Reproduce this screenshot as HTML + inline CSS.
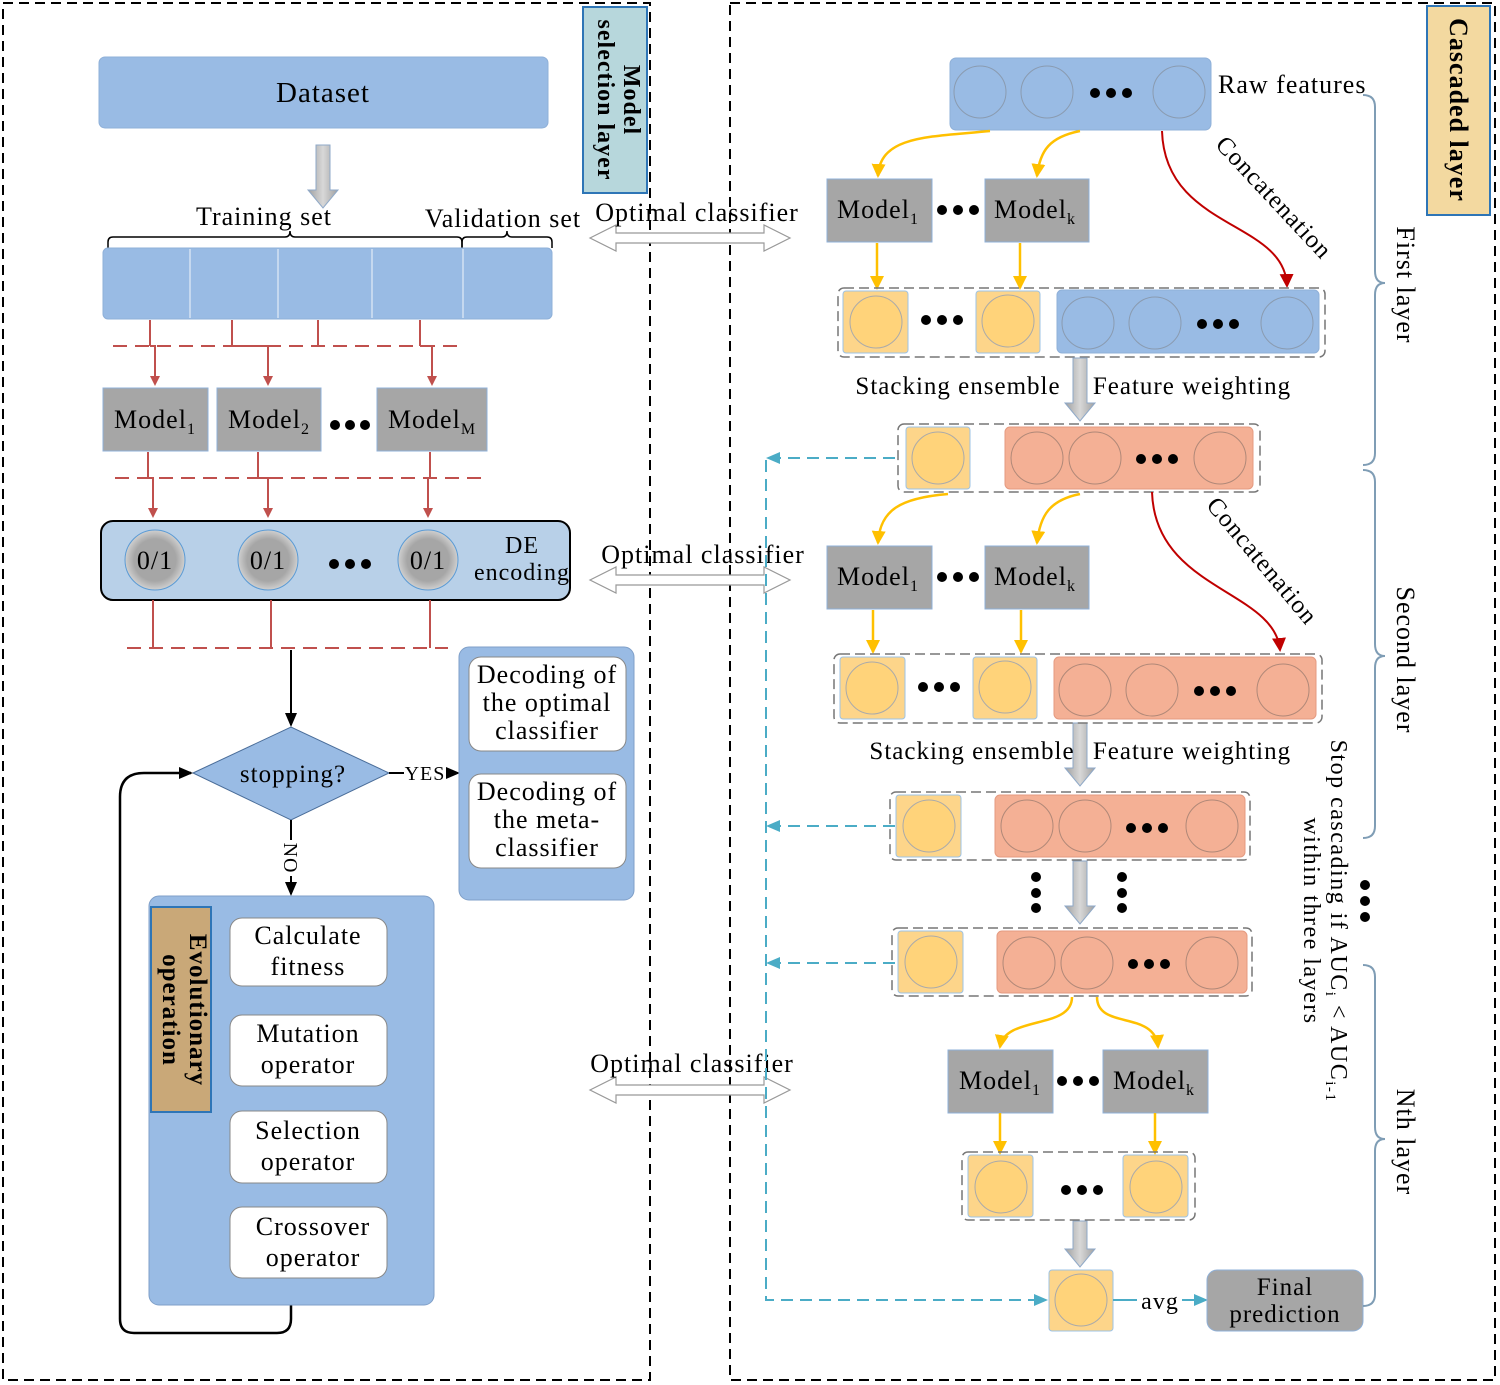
<!DOCTYPE html>
<html><head><meta charset="utf-8"><style>
html,body{margin:0;padding:0;background:#fff}
svg{display:block}
text{font-family:"Liberation Serif",serif;fill:#000;letter-spacing:1px}
</style></head><body>
<svg width="1500" height="1385" viewBox="0 0 1500 1385" xmlns="http://www.w3.org/2000/svg">
<defs>
<marker id="ar" markerWidth="10" markerHeight="10" refX="8" refY="5" orient="auto" markerUnits="userSpaceOnUse"><path d="M0,0 L10,5 L0,10 z" fill="#c0504d"/></marker>
<marker id="ay" markerWidth="14" markerHeight="14" refX="12" refY="7" orient="auto" markerUnits="userSpaceOnUse"><path d="M0,0 L14,7 L0,14 z" fill="#ffc000"/></marker>
<marker id="ak" markerWidth="14" markerHeight="14" refX="12" refY="7" orient="auto" markerUnits="userSpaceOnUse"><path d="M0,1 L14,7 L0,13 z" fill="#000"/></marker>
<marker id="ad" markerWidth="14" markerHeight="14" refX="12" refY="7" orient="auto" markerUnits="userSpaceOnUse"><path d="M0,0 L14,7 L0,14 z" fill="#c00000"/></marker>
<marker id="ac" markerWidth="14" markerHeight="14" refX="12" refY="7" orient="auto" markerUnits="userSpaceOnUse"><path d="M0,1 L14,7 L0,13 z" fill="#4bacc6"/></marker>
<radialGradient id="gc" cx="0.5" cy="0.5" r="0.5"><stop offset="0.7" stop-color="#a6a6a6"/><stop offset="1" stop-color="#d0d0d0"/></radialGradient>
<linearGradient id="ga" x1="0" x2="1"><stop offset="0" stop-color="#a0a0a0"/><stop offset="0.5" stop-color="#d8d8d8"/><stop offset="1" stop-color="#a0a0a0"/></linearGradient>
</defs>

<rect x="3" y="3" width="647" height="1377" fill="none" stroke="#000" stroke-width="2" stroke-dasharray="10,6"/>
<rect x="730" y="3" width="765" height="1377" fill="none" stroke="#000" stroke-width="2" stroke-dasharray="10,6"/>

<rect x="583" y="7" width="64" height="186" fill="#b7d7dc" stroke="#2e75b6" stroke-width="2"/>
<text transform="translate(624,100) rotate(90)" text-anchor="middle" font-size="24" font-weight="bold">Model</text>
<text transform="translate(598,100) rotate(90)" text-anchor="middle" font-size="24" font-weight="bold">selection layer</text>
<rect x="1427" y="6" width="63" height="209" fill="#f3d9a0" stroke="#2e75b6" stroke-width="2"/>
<text transform="translate(1450,110) rotate(90)" text-anchor="middle" font-size="26" font-weight="bold">Cascaded layer</text>

<rect x="99" y="57" width="449" height="71" rx="6" fill="#99bbe4" stroke="#8fb0d8"/>
<text x="323" y="102" text-anchor="middle" font-size="29">Dataset</text>
<path d="M316,145 h14 v45 h8 l-15,18 l-15,-18 h8 z" fill="url(#ga)" stroke="#8fa9c8"/>

<text x="264" y="225" text-anchor="middle" font-size="26">Training set</text>
<text x="503" y="227" text-anchor="middle" font-size="26">Validation set</text>
<path d="M108,248 v-6 q0,-5 5,-5 h172 q5,0 5,-6 q0,6 5,6 h162 q5,0 5,5 v6" fill="none" stroke="#000" stroke-width="1.5"/>
<path d="M462,248 v-6 q0,-5 5,-5 h35 q5,0 5,-6 q0,6 5,6 h35 q5,0 5,5 v6" fill="none" stroke="#000" stroke-width="1.5"/>
<rect x="103" y="248" width="449" height="71" rx="5" fill="#99bbe4" stroke="#8fb0d8"/>
<g stroke="#c5d8ef" stroke-width="2"><line x1="190" y1="249" x2="190" y2="318"/><line x1="278" y1="249" x2="278" y2="318"/><line x1="372" y1="249" x2="372" y2="318"/><line x1="463" y1="249" x2="463" y2="318"/></g>

<g stroke="#c0504d" stroke-width="2" fill="none">
<line x1="113" y1="346" x2="465" y2="346" stroke-dasharray="14,8"/>
<line x1="150" y1="320" x2="150" y2="346"/><line x1="232" y1="320" x2="232" y2="346"/><line x1="318" y1="320" x2="318" y2="346"/><line x1="420" y1="320" x2="420" y2="346"/>
<path d="M150,346 h5 v38" marker-end="url(#ar)"/><path d="M232,346 h36 v38" marker-end="url(#ar)"/><path d="M420,346 h12 v38" marker-end="url(#ar)"/>
</g>
<g font-size="26">
<rect x="103" y="388" width="105" height="63" fill="#a6a6a6" stroke="#8fb0d8"/><text x="155" y="428" text-anchor="middle">Model<tspan font-size="16" dy="6">1</tspan></text>
<rect x="217" y="388" width="104" height="63" fill="#a6a6a6" stroke="#8fb0d8"/><text x="269" y="428" text-anchor="middle">Model<tspan font-size="16" dy="6">2</tspan></text>
<rect x="377" y="388" width="110" height="63" fill="#a6a6a6" stroke="#8fb0d8"/><text x="432" y="428" text-anchor="middle">Model<tspan font-size="16" dy="6">M</tspan></text>
</g>
<g fill="#000"><circle cx="335" cy="425" r="5"/><circle cx="350" cy="425" r="5"/><circle cx="365" cy="425" r="5"/></g>

<g stroke="#c0504d" stroke-width="2" fill="none">
<line x1="115" y1="478" x2="485" y2="478" stroke-dasharray="14,8"/>
<path d="M148,452 v26 h5 v38" marker-end="url(#ar)"/><path d="M258,452 v26 h10 v38" marker-end="url(#ar)"/><path d="M430,452 v26 h-2 v38" marker-end="url(#ar)"/>
</g>
<rect x="101" y="521" width="469" height="79" rx="12" fill="#b8d0e8" stroke="#000" stroke-width="2"/>
<g stroke="#5b9bd5">
<circle cx="155" cy="560" r="30" fill="url(#gc)"/><circle cx="268" cy="560" r="30" fill="url(#gc)"/><circle cx="428" cy="560" r="30" fill="url(#gc)"/>
</g>
<g font-size="26" text-anchor="middle"><text x="155" y="569">0/1</text><text x="268" y="569">0/1</text><text x="428" y="569">0/1</text></g>
<g fill="#000"><circle cx="334" cy="564" r="5"/><circle cx="350" cy="564" r="5"/><circle cx="366" cy="564" r="5"/></g>
<text x="522" y="553" text-anchor="middle" font-size="24">DE</text>
<text x="522" y="580" text-anchor="middle" font-size="24">encoding</text>
<g stroke="#c0504d" stroke-width="2" fill="none">
<line x1="127" y1="648" x2="448" y2="648" stroke-dasharray="14,8"/>
<line x1="153" y1="600" x2="153" y2="648"/><line x1="271" y1="600" x2="271" y2="648"/><line x1="430" y1="600" x2="430" y2="648"/>
</g>

<line x1="291" y1="650" x2="291" y2="725" stroke="#000" stroke-width="2" marker-end="url(#ak)"/>
<path d="M193,773 L291,727 L389,773 L291,820 z" fill="#99bbe4" stroke="#4a6d99"/>
<text x="293" y="782" text-anchor="middle" font-size="25">stopping?</text>
<line x1="389" y1="773" x2="404" y2="773" stroke="#000" stroke-width="2"/>
<text x="425" y="780" text-anchor="middle" font-size="20">YES</text>
<line x1="446" y1="773" x2="458" y2="773" stroke="#000" stroke-width="2" marker-end="url(#ak)"/>
<line x1="291" y1="820" x2="291" y2="840" stroke="#000" stroke-width="2"/>
<text transform="translate(284,858) rotate(90)" text-anchor="middle" font-size="20">NO</text>
<line x1="291" y1="876" x2="291" y2="894" stroke="#000" stroke-width="2" marker-end="url(#ak)"/>
<path d="M291,1305 v14 q0,14 -14,14 h-143 q-14,0 -14,-14 v-522 q0,-24 24,-24 h47" fill="none" stroke="#000" stroke-width="2.5" marker-end="url(#ak)"/>

<rect x="459" y="647" width="175" height="253" rx="10" fill="#99bbe4" stroke="#7f9fc8"/>
<rect x="469" y="657" width="157" height="94" rx="12" fill="#fff" stroke="#888"/>
<rect x="469" y="774" width="157" height="94" rx="12" fill="#fff" stroke="#888"/>
<g font-size="26" text-anchor="middle">
<text x="547" y="683">Decoding of</text><text x="547" y="711">the optimal</text><text x="547" y="739">classifier</text>
<text x="547" y="800">Decoding of</text><text x="547" y="828">the meta-</text><text x="547" y="856">classifier</text>
</g>

<rect x="149" y="896" width="285" height="409" rx="10" fill="#99bbe4" stroke="#7f9fc8"/>
<rect x="151" y="907" width="60" height="205" fill="#c9a878" stroke="#2e75b6" stroke-width="2"/>
<text transform="translate(190,1010) rotate(90)" text-anchor="middle" font-size="25" font-weight="bold">Evolutionary</text>
<text transform="translate(163,1010) rotate(90)" text-anchor="middle" font-size="25" font-weight="bold">operation</text>
<g fill="#fff" stroke="#888">
<rect x="230" y="918" width="157" height="68" rx="12"/><rect x="230" y="1015" width="157" height="71" rx="12"/>
<rect x="230" y="1111" width="157" height="72" rx="12"/><rect x="230" y="1207" width="157" height="71" rx="12"/>
</g>
<g font-size="26" text-anchor="middle">
<text x="308" y="944">Calculate</text><text x="308" y="975">fitness</text>
<text x="308" y="1042">Mutation</text><text x="308" y="1073">operator</text>
<text x="308" y="1139">Selection</text><text x="308" y="1170">operator</text>
<text x="313" y="1235">Crossover</text><text x="313" y="1266">operator</text>
</g>

<g fill="#fff" stroke="#999" stroke-width="1.2">
<path d="M590,238 l26,-13 v8 h148 v-8 l26,13 l-26,13 v-8 h-148 v8 z"/>
<path d="M590,580 l26,-13 v8 h148 v-8 l26,13 l-26,13 v-8 h-148 v8 z"/>
<path d="M590,1090 l26,-13 v8 h148 v-8 l26,13 l-26,13 v-8 h-148 v8 z"/>
</g>
<g font-size="26" text-anchor="middle">
<text x="697" y="221">Optimal classifier</text><text x="703" y="563">Optimal classifier</text><text x="692" y="1072">Optimal classifier</text>
</g>

<rect x="950" y="58" width="261" height="72" rx="6" fill="#99bbe4" stroke="#8fb0d8"/>
<g fill="none" stroke="#8a9bb0"><circle cx="980" cy="92" r="26"/><circle cx="1047" cy="92" r="26"/><circle cx="1179" cy="92" r="26"/></g>
<g fill="#000"><circle cx="1095" cy="93" r="5"/><circle cx="1111" cy="93" r="5"/><circle cx="1127" cy="93" r="5"/></g>
<text x="1218" y="93" font-size="26">Raw features</text>

<g stroke="#ffc000" stroke-width="2.5" fill="none">
<path d="M990,131 C930,137 880,135 878,176" marker-end="url(#ay)"/>
<path d="M1080,131 C1050,137 1040,150 1037,176" marker-end="url(#ay)"/>
</g>
<path d="M1162,131 C1165,230 1285,220 1287,286" stroke="#c00000" stroke-width="2" fill="none" marker-end="url(#ad)"/>
<text transform="translate(1268,203) rotate(47)" text-anchor="middle" font-size="25">Concatenation</text>

<g font-size="26">
<rect x="827" y="179" width="105" height="63" fill="#a6a6a6" stroke="#8fb0d8"/><text x="878" y="218" text-anchor="middle">Model<tspan font-size="16" dy="6">1</tspan></text>
<rect x="985" y="179" width="104" height="63" fill="#a6a6a6" stroke="#8fb0d8"/><text x="1035" y="218" text-anchor="middle">Model<tspan font-size="16" dy="6">k</tspan></text>
</g>
<g fill="#000"><circle cx="942" cy="210" r="5"/><circle cx="958" cy="210" r="5"/><circle cx="974" cy="210" r="5"/></g>
<g stroke="#ffc000" stroke-width="2.5"><line x1="877" y1="243" x2="877" y2="288" marker-end="url(#ay)"/><line x1="1020" y1="243" x2="1020" y2="288" marker-end="url(#ay)"/></g>

<rect x="838" y="288" width="487" height="69" rx="6" fill="none" stroke="#777" stroke-width="1.5" stroke-dasharray="10,5"/>
<g fill="#fdd58a" stroke="#9dc3e6"><rect x="843" y="291" width="65" height="62" rx="3"/><rect x="976" y="291" width="64" height="62" rx="3"/></g>
<g fill="#ffd37a" stroke="#aaa"><circle cx="876" cy="322" r="26"/><circle cx="1008" cy="321" r="26"/></g>
<g fill="#000"><circle cx="926" cy="320" r="5"/><circle cx="942" cy="320" r="5"/><circle cx="958" cy="320" r="5"/></g>
<rect x="1057" y="290" width="262" height="63" rx="5" fill="#99bbe4" stroke="#8fb0d8"/>
<g fill="none" stroke="#8a9bb0"><circle cx="1088" cy="323" r="26"/><circle cx="1155" cy="323" r="26"/><circle cx="1287" cy="323" r="26"/></g>
<g fill="#000"><circle cx="1202" cy="324" r="5"/><circle cx="1218" cy="324" r="5"/><circle cx="1234" cy="324" r="5"/></g>

<g fill="url(#ga)" stroke="#8fa9c8">
<path d="M1073,358 h14 v45 h8 l-15,18 l-15,-18 h8 z"/>
<path d="M1073,723 h14 v45 h8 l-15,18 l-15,-18 h8 z"/>
<path d="M1073,861 h14 v45 h8 l-15,18 l-15,-18 h8 z"/>
<path d="M1073,1221 h14 v28 h8 l-15,18 l-15,-18 h8 z"/>
</g>
<g font-size="25" text-anchor="middle">
<text x="958" y="394">Stacking ensemble</text><text x="1192" y="394">Feature weighting</text>
<text x="972" y="759">Stacking ensemble</text><text x="1192" y="759">Feature weighting</text>
</g>

<rect x="898" y="424" width="362" height="68" rx="6" fill="none" stroke="#777" stroke-width="1.5" stroke-dasharray="10,5"/>
<rect x="906" y="427" width="64" height="62" rx="3" fill="#fdd58a" stroke="#9dc3e6"/><circle cx="938" cy="458" r="26" fill="#ffd37a" stroke="#aaa"/>
<rect x="1005" y="427" width="248" height="62" rx="5" fill="#f4b095" stroke="#e59a80"/>
<g fill="none" stroke="#b08878"><circle cx="1037" cy="458" r="26"/><circle cx="1095" cy="458" r="26"/><circle cx="1220" cy="458" r="26"/></g>
<g fill="#000"><circle cx="1141" cy="459" r="5"/><circle cx="1157" cy="459" r="5"/><circle cx="1173" cy="459" r="5"/></g>

<g stroke="#ffc000" stroke-width="2.5" fill="none">
<path d="M948,494 C900,498 880,510 878,543" marker-end="url(#ay)"/>
<path d="M1080,494 C1050,500 1040,515 1037,543" marker-end="url(#ay)"/>
</g>
<path d="M1152,492 C1155,590 1275,590 1280,650" stroke="#c00000" stroke-width="2" fill="none" marker-end="url(#ad)"/>
<text transform="translate(1256,566) rotate(50)" text-anchor="middle" font-size="25">Concatenation</text>

<g font-size="26">
<rect x="827" y="546" width="105" height="63" fill="#a6a6a6" stroke="#8fb0d8"/><text x="878" y="585" text-anchor="middle">Model<tspan font-size="16" dy="6">1</tspan></text>
<rect x="985" y="546" width="104" height="63" fill="#a6a6a6" stroke="#8fb0d8"/><text x="1035" y="585" text-anchor="middle">Model<tspan font-size="16" dy="6">k</tspan></text>
</g>
<g fill="#000"><circle cx="942" cy="577" r="5"/><circle cx="958" cy="577" r="5"/><circle cx="974" cy="577" r="5"/></g>
<g stroke="#ffc000" stroke-width="2.5"><line x1="873" y1="610" x2="873" y2="652" marker-end="url(#ay)"/><line x1="1021" y1="610" x2="1021" y2="652" marker-end="url(#ay)"/></g>

<rect x="834" y="654" width="488" height="69" rx="6" fill="none" stroke="#777" stroke-width="1.5" stroke-dasharray="10,5"/>
<g fill="#fdd58a" stroke="#9dc3e6"><rect x="840" y="657" width="65" height="62" rx="3"/><rect x="973" y="657" width="64" height="62" rx="3"/></g>
<g fill="#ffd37a" stroke="#aaa"><circle cx="872" cy="688" r="26"/><circle cx="1005" cy="687" r="26"/></g>
<g fill="#000"><circle cx="923" cy="687" r="5"/><circle cx="939" cy="687" r="5"/><circle cx="955" cy="687" r="5"/></g>
<rect x="1054" y="657" width="262" height="62" rx="5" fill="#f4b095" stroke="#e59a80"/>
<g fill="none" stroke="#b08878"><circle cx="1085" cy="690" r="26"/><circle cx="1152" cy="690" r="26"/><circle cx="1283" cy="690" r="26"/></g>
<g fill="#000"><circle cx="1199" cy="691" r="5"/><circle cx="1215" cy="691" r="5"/><circle cx="1231" cy="691" r="5"/></g>

<rect x="890" y="792" width="360" height="68" rx="6" fill="none" stroke="#777" stroke-width="1.5" stroke-dasharray="10,5"/>
<rect x="896" y="795" width="65" height="62" rx="3" fill="#fdd58a" stroke="#9dc3e6"/><circle cx="929" cy="826" r="26" fill="#ffd37a" stroke="#aaa"/>
<rect x="995" y="795" width="250" height="62" rx="5" fill="#f4b095" stroke="#e59a80"/>
<g fill="none" stroke="#b08878"><circle cx="1027" cy="826" r="26"/><circle cx="1085" cy="826" r="26"/><circle cx="1212" cy="826" r="26"/></g>
<g fill="#000"><circle cx="1131" cy="828" r="5"/><circle cx="1147" cy="828" r="5"/><circle cx="1163" cy="828" r="5"/></g>

<g fill="#000"><circle cx="1036" cy="877" r="5"/><circle cx="1036" cy="893" r="5"/><circle cx="1036" cy="908" r="5"/>
<circle cx="1122" cy="877" r="5"/><circle cx="1122" cy="893" r="5"/><circle cx="1122" cy="908" r="5"/>
<circle cx="1365" cy="885" r="5"/><circle cx="1365" cy="901" r="5"/><circle cx="1365" cy="917" r="5"/></g>

<rect x="892" y="928" width="360" height="68" rx="6" fill="none" stroke="#777" stroke-width="1.5" stroke-dasharray="10,5"/>
<rect x="898" y="931" width="65" height="62" rx="3" fill="#fdd58a" stroke="#9dc3e6"/><circle cx="931" cy="962" r="26" fill="#ffd37a" stroke="#aaa"/>
<rect x="997" y="931" width="250" height="62" rx="5" fill="#f4b095" stroke="#e59a80"/>
<g fill="none" stroke="#b08878"><circle cx="1029" cy="963" r="26"/><circle cx="1087" cy="963" r="26"/><circle cx="1212" cy="963" r="26"/></g>
<g fill="#000"><circle cx="1133" cy="964" r="5"/><circle cx="1149" cy="964" r="5"/><circle cx="1165" cy="964" r="5"/></g>

<g stroke="#ffc000" stroke-width="2.5" fill="none">
<path d="M1072,997 C1072,1030 1005,1015 1000,1047" marker-end="url(#ay)"/>
<path d="M1097,997 C1097,1030 1155,1010 1158,1047" marker-end="url(#ay)"/>
</g>
<g font-size="26">
<rect x="948" y="1050" width="105" height="63" fill="#a6a6a6" stroke="#8fb0d8"/><text x="1000" y="1089" text-anchor="middle">Model<tspan font-size="16" dy="6">1</tspan></text>
<rect x="1103" y="1050" width="105" height="63" fill="#a6a6a6" stroke="#8fb0d8"/><text x="1154" y="1089" text-anchor="middle">Model<tspan font-size="16" dy="6">k</tspan></text>
</g>
<g fill="#000"><circle cx="1062" cy="1081" r="5"/><circle cx="1078" cy="1081" r="5"/><circle cx="1094" cy="1081" r="5"/></g>
<g stroke="#ffc000" stroke-width="2.5"><line x1="1000" y1="1113" x2="1000" y2="1153" marker-end="url(#ay)"/><line x1="1155" y1="1113" x2="1155" y2="1153" marker-end="url(#ay)"/></g>

<rect x="962" y="1152" width="233" height="68" rx="6" fill="none" stroke="#777" stroke-width="1.5" stroke-dasharray="10,5"/>
<g fill="#fdd58a" stroke="#9dc3e6"><rect x="968" y="1155" width="65" height="62" rx="3"/><rect x="1123" y="1155" width="65" height="62" rx="3"/></g>
<g fill="#ffd37a" stroke="#aaa"><circle cx="1001" cy="1187" r="26"/><circle cx="1156" cy="1187" r="26"/></g>
<g fill="#000"><circle cx="1066" cy="1190" r="5"/><circle cx="1082" cy="1190" r="5"/><circle cx="1098" cy="1190" r="5"/></g>

<rect x="1049" y="1270" width="64" height="61" rx="3" fill="#fdd58a" stroke="#9dc3e6"/><circle cx="1081" cy="1300" r="26" fill="#ffd37a" stroke="#aaa"/>
<line x1="1113" y1="1300" x2="1137" y2="1300" stroke="#4bacc6" stroke-width="2"/>
<text x="1160" y="1309" text-anchor="middle" font-size="24">avg</text>
<line x1="1182" y1="1300" x2="1206" y2="1300" stroke="#4bacc6" stroke-width="2" marker-end="url(#ac)"/>
<rect x="1207" y="1270" width="156" height="61" rx="10" fill="#a6a6a6" stroke="#8fb0d8"/>
<text x="1285" y="1295" text-anchor="middle" font-size="25">Final</text>
<text x="1285" y="1322" text-anchor="middle" font-size="25">prediction</text>

<g stroke="#4bacc6" stroke-width="2" fill="none" stroke-dasharray="12,7">
<line x1="895" y1="458" x2="768" y2="458" marker-end="url(#ac)"/>
<line x1="895" y1="826" x2="768" y2="826" marker-end="url(#ac)"/>
<line x1="895" y1="963" x2="768" y2="963" marker-end="url(#ac)"/>
<path d="M766,460 V1300 H1046" marker-end="url(#ac)"/>
</g>

<g stroke="#7f9db5" stroke-width="2" fill="none">
<path d="M1363,95 q12,0 12,12 v164 q0,12 10,12 q-10,0 -10,12 v158 q0,12 -12,12"/>
<path d="M1363,470 q12,0 12,12 v162 q0,12 10,12 q-10,0 -10,12 v158 q0,12 -12,12"/>
<path d="M1363,965 q12,0 12,12 v150 q0,12 10,12 q-10,0 -10,12 v143 q0,12 -12,12"/>
</g>
<g font-size="26" text-anchor="middle">
<text transform="translate(1397,285) rotate(90)">First layer</text>
<text transform="translate(1397,660) rotate(90)">Second layer</text>
<text transform="translate(1397,1142) rotate(90)">Nth layer</text>
</g>
<text transform="translate(1331,921) rotate(90)" text-anchor="middle" font-size="24" style="letter-spacing:1.5px">Stop cascading if AUC<tspan font-size="15" dy="5">i</tspan><tspan dy="-5"> &lt; AUC</tspan><tspan font-size="15" dy="5">i-1</tspan></text>
<text transform="translate(1304,921) rotate(90)" text-anchor="middle" font-size="24" style="letter-spacing:1.5px">within three layers</text>
</svg>
</body></html>
